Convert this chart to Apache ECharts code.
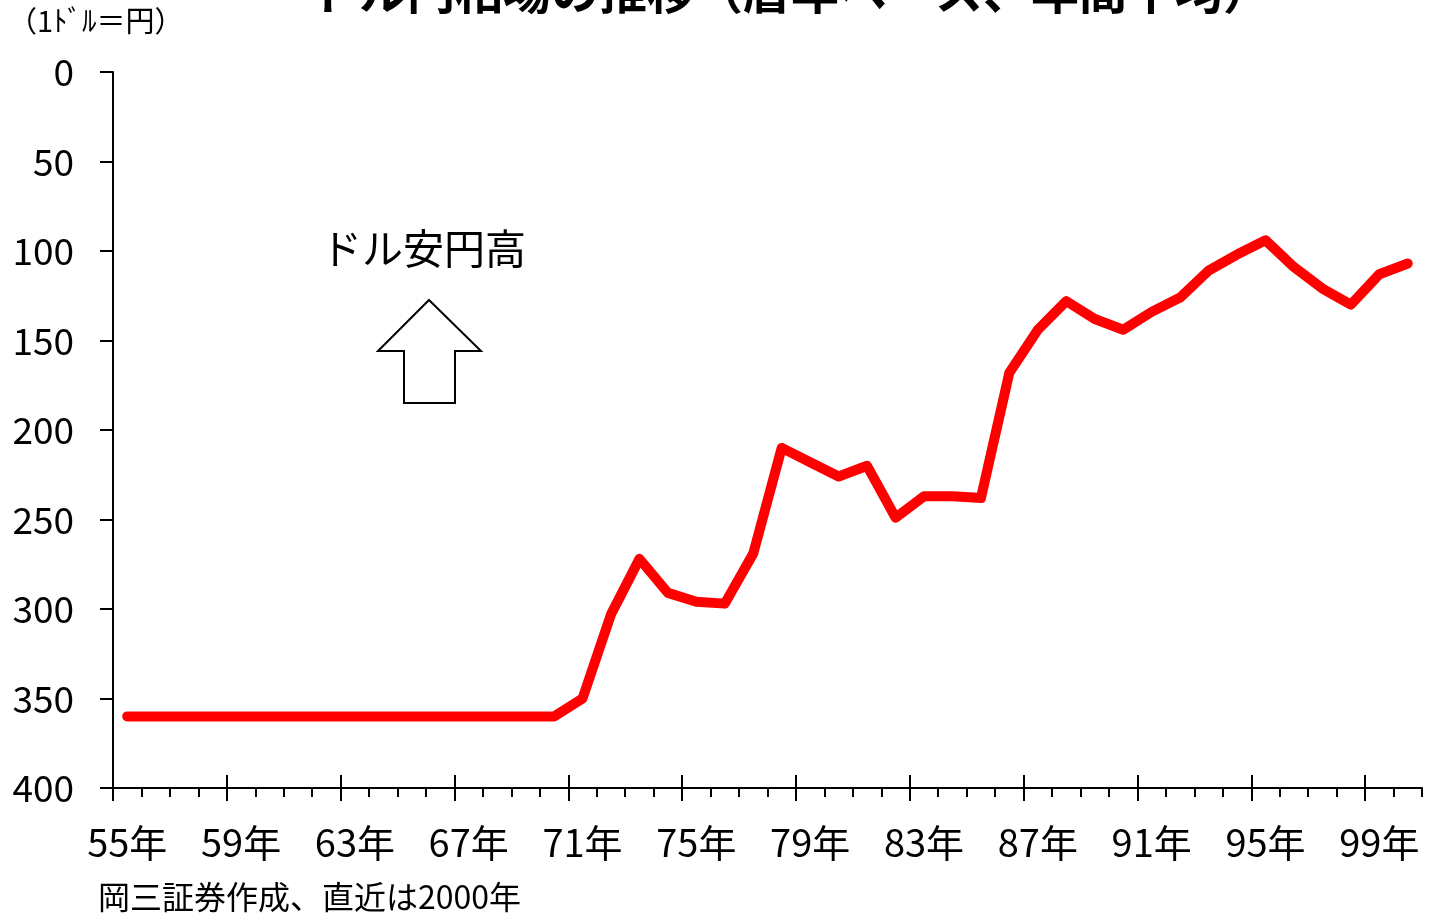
<!DOCTYPE html>
<html>
<head>
<meta charset="utf-8">
<script src="https://cdn.jsdelivr.net/npm/echarts@6/dist/echarts.min.js"></script>
<style>
html,body{margin:0;padding:0;background:#fff;}
#chart{width:1433px;height:918px;}
</style>
</head>
<body>
<div id="chart"></div>
<script>
// ---- data ----
const years = [];
for (let y = 1955; y <= 2000; y++) years.push(String(y % 100).padStart(2, '0') + '年');
const rates = [
  360, 360, 360, 360, 360, 360, 360, 360, 360, 360,   // 1955-1964
  360, 360, 360, 360, 360, 360,                       // 1965-1970
  350, 303, 272, 291, 296, 297, 269, 210, 218, 226,   // 1971-1980
  220, 249, 237, 237, 238, 168, 144, 128, 138, 144,   // 1981-1990
  134, 126, 111, 102, 94, 109, 121, 130, 113, 107     // 1991-2000
];
const yTicks = [0, 50, 100, 150, 200, 250, 300, 350, 400];
const majorTickIdx = [0, 4, 8, 12, 16, 20, 24, 28, 32, 36, 40, 44];

const FONT = '"Noto Sans CJK JP", "Noto Sans", sans-serif';
const chart = echarts.init(document.getElementById('chart'));
chart.setOption({
  animation: false,
  backgroundColor: '#fff',
  textStyle: { fontFamily: FONT },
  title: {
    text: 'ドル円相場の推移（暦年ベース、年間平均）',
    left: 306, top: -38,
    textStyle: { fontSize: 48, fontWeight: 'bold', color: '#000', fontFamily: FONT }
  },
  grid: { left: 113, right: 11, top: 72, bottom: 130, containLabel: false },
  xAxis: [
    {
      type: 'category', data: years, boundaryGap: true, position: 'bottom',
      axisLine: { show: true, onZero: false, lineStyle: { color: '#000', width: 2 } },
      axisTick: { show: true, interval: 0, length: 9, lineStyle: { color: '#000', width: 2 } },
      axisLabel: { interval: 3, margin: 36, fontSize: 38, color: '#000', fontFamily: FONT },
      splitLine: { show: false }
    },
    {
      type: 'value', min: 0, max: years.length, position: 'bottom', offset: -13,
      axisLine: { show: false, onZero: false },
      axisTick: { show: true, length: 26, customValues: majorTickIdx, lineStyle: { color: '#000', width: 2 } },
      axisLabel: { show: false },
      splitLine: { show: false }
    }
  ],
  yAxis: {
    type: 'value', inverse: true, min: 0, max: 400, interval: 50,
    axisLine: { show: true, onZero: false, lineStyle: { color: '#000', width: 2 } },
    axisTick: { show: true, length: 13, lineStyle: { color: '#000', width: 2 } },
    axisLabel: { margin: 39, fontSize: 37, color: '#000', fontFamily: FONT,
      formatter: v => yTicks.includes(v) ? String(v) : '' },
    splitLine: { show: false }
  },
  series: [{
    type: 'line', xAxisIndex: 0, yAxisIndex: 0, data: rates,
    symbol: 'none',
    lineStyle: { color: '#ff0000', width: 10, cap: 'round', join: 'round' }
  }],
  graphic: [
    { type: 'text', left: 8, top: 6,
      style: { text: '（1ﾄﾞﾙ＝円）', font: '29px ' + FONT, fill: '#000' } },
    { type: 'text', left: 321, top: 228,
      style: { text: 'ドル安円高', font: '41px ' + FONT, fill: '#000' } },
    { type: 'polygon',
      shape: { points: [[429, 300], [481, 351], [455, 351], [455, 403], [404, 403], [404, 351], [378, 351]] },
      style: { fill: '#fff', stroke: '#000', lineWidth: 2 } },
    { type: 'text', left: 98, top: 881,
      style: { text: '岡三証券作成、直近は2000年', font: '32px ' + FONT, fill: '#000' } }
  ]
});
</script>
</body>
</html>
